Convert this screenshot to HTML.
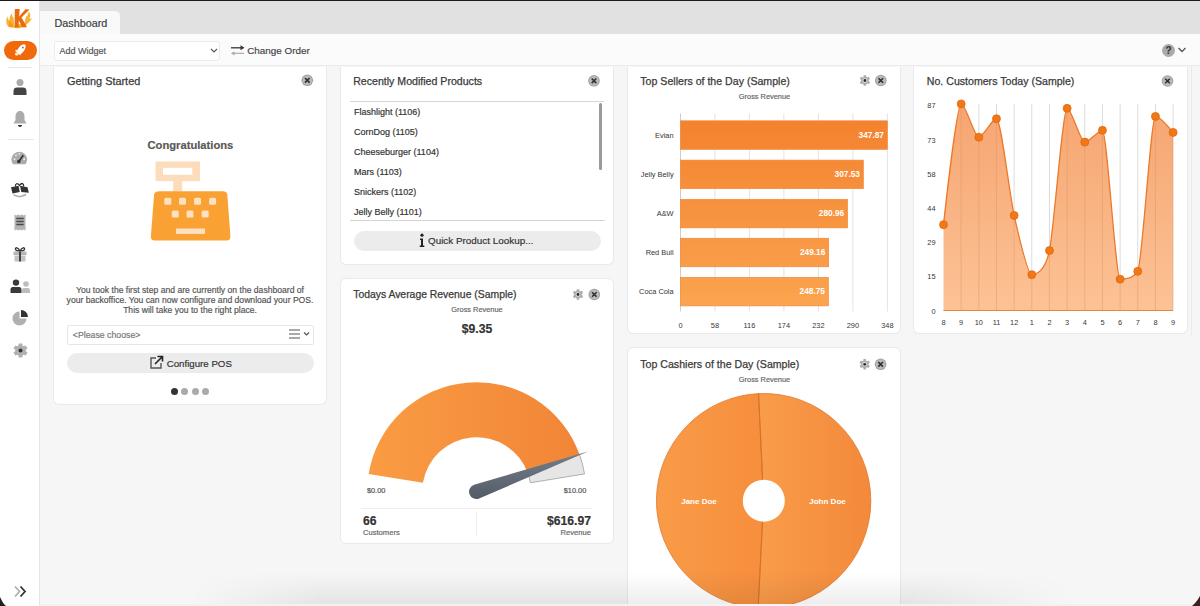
<!DOCTYPE html>
<html><head><meta charset="utf-8">
<style>
*{box-sizing:border-box}
html,body{margin:0;padding:0}
body{width:1200px;height:606px;overflow:hidden;position:relative;background:#f6f6f6;font-family:"Liberation Sans",sans-serif;color:#444}
.abs{position:absolute}
.t{position:absolute;white-space:nowrap;line-height:1;-webkit-text-stroke:0.18px currentColor}
.w{position:absolute;background:#fff;border:1px solid #e9e9e9;border-radius:6px}
.title{position:absolute;white-space:nowrap;font-size:10.6px;color:#3a3a3a;line-height:1;-webkit-text-stroke:0.25px #3a3a3a}
svg text{font-family:"Liberation Sans",sans-serif;-webkit-text-stroke:0.15px currentColor}
</style></head><body>
<!-- top dark line -->
<div class="abs" style="left:0;top:0;width:1200px;height:1px;background:#1b1b1b"></div>
<!-- tab bar -->
<div class="abs" style="left:40px;top:1px;width:1160px;height:33px;background:#e1e1e1"></div>
<div class="abs" style="left:40px;top:11px;width:80px;height:24px;background:#f9f9f9;border-radius:0 5px 0 0"></div>
<div class="t" style="left:54.5px;top:18px;font-size:10.8px;color:#3c3c3c">Dashboard</div>
<!-- toolbar -->
<div class="abs" style="left:40px;top:34px;width:1160px;height:32px;background:#fbfbfb;border-bottom:1px solid #ececec"></div>
<div class="abs" style="left:54px;top:41px;width:166px;height:20px;background:#fff;border:1px solid #ececec;border-radius:3px"></div>
<div class="t" style="left:59.5px;top:47px;font-size:9px;color:#555">Add Widget</div>
<svg class="abs" style="left:209px;top:47px" width="10" height="7" viewBox="0 0 10 7"><path d="M2 2 L5 5 L8 2" stroke="#555" stroke-width="1.1" fill="none"/></svg>
<svg class="abs" style="left:230px;top:44px" width="15" height="13" viewBox="0 0 15 13"><path d="M1 3.8 H11" stroke="#333" stroke-width="1.3"/><path d="M10.5 1.3 L14.5 3.8 L10.5 6.3 Z" fill="#333"/><path d="M4 9.3 H14" stroke="#aaa" stroke-width="1.2"/><path d="M4.5 7.2 L1 9.3 L4.5 11.4 Z" fill="#aaa"/></svg>
<div class="t" style="left:247.2px;top:46.2px;font-size:9.9px;color:#444">Change Order</div>
<!-- help -->
<div class="abs" style="left:1162px;top:44px;width:13px;height:13px;border-radius:50%;background:#ababab"></div>
<div class="t" style="left:1165.6px;top:46px;font-size:10px;font-weight:bold;color:#3a3a3a">?</div>
<svg class="abs" style="left:1177px;top:46px" width="10" height="8" viewBox="0 0 10 8"><path d="M1.5 2 L5 5.5 L8.5 2" stroke="#555" stroke-width="1.3" fill="none"/></svg>
<div class="abs" style="left:1191px;top:66px;width:1px;height:270px;background:#ebebeb"></div>

<!-- sidebar -->
<div class="abs" style="left:0;top:1px;width:40px;height:605px;background:#fff;border-right:1px solid #e6e6e6"></div>
<!-- logo -->
<svg class="abs" style="left:0;top:0" width="40" height="34" viewBox="0 0 40 34">
 <path d="M8.5 27 C6 24 5.5 20 7.5 16 C7.5 19 8.5 20 9.5 20.5 C9 17.5 10.5 15 12 13.5 C12 16 12.5 17 13.5 17.5 L14.5 27.5 Z" fill="#f8b232"/>
 <path d="M9.5 27 C8.5 24.5 8.5 22.5 10 20.5 C10.5 23 11.5 24 12.5 24 L13 27.5 Z" fill="#f39a1a"/>
 <path d="M23.5 26.5 C28 24 31 21 32.5 17 C31.5 18.5 30.5 19 29.5 19 C31 16 30.5 13 28.5 11.5 C28.5 14 27.5 16 26 17 Z" fill="#f8b232"/>
 <path d="M14 27.8 C16 28.5 20 28.5 23 27 L21 24 L15 25 Z" fill="#f6a42a"/>
 <path d="M14.8 9 L19.6 9 L19.2 16.5 L25.5 9.3 L29.5 9.5 L21.5 17.5 L27 27.3 L22.3 27.3 L18.8 20.5 L18.6 27.3 L14.6 27.3 Z" fill="#ea6a0c"/>
</svg>
<!-- rocket button -->
<div class="abs" style="left:4px;top:41px;width:33px;height:19px;border-radius:10px;background:#f0690a"></div>
<svg class="abs" style="left:0;top:38px" width="40" height="26" viewBox="0 38 40 26">
 <ellipse cx="21.3" cy="49.3" rx="6" ry="3" transform="rotate(-52 21.3 49.3)" fill="#fff"/>
 <path d="M17.5 49.5 L14.8 50.8 L17.8 52.5 Z M21.5 53 L20 55.5 L18.5 52.5 Z" fill="#fff"/>
 <circle cx="16.6" cy="54" r="1.7" fill="#ffe3b8"/>
 <circle cx="22.9" cy="47.6" r="0.9" fill="#666"/>
</svg>
<div class="abs" style="left:8px;top:67px;width:24px;height:1px;background:#e8e8e8"></div>
<!-- user -->
<svg class="abs" style="left:12px;top:78px" width="16" height="18" viewBox="0 0 16 18">
 <circle cx="8" cy="4.5" r="3.5" fill="#ababab"/>
 <path d="M1.5 17 V13 C1.5 10.5 3 9.5 5 9.5 H11 C13 9.5 14.5 10.5 14.5 13 V17 Z" fill="#454545"/>
</svg>
<!-- bell -->
<svg class="abs" style="left:12px;top:110px" width="16" height="18" viewBox="0 0 16 18">
 <path d="M8 1 C5 1 3.5 3.5 3.5 6.5 V10 L1.5 13.5 H14.5 L12.5 10 V6.5 C12.5 3.5 11 1 8 1 Z" fill="#ababab"/>
 <path d="M6 15 H10 C10 16.3 9 17 8 17 C7 17 6 16.3 6 15 Z" fill="#333"/>
</svg>
<div class="abs" style="left:8px;top:139px;width:26px;height:1px;background:#e8e8e8"></div>
<!-- gauge icon -->
<svg class="abs" style="left:11px;top:151px" width="17" height="14" viewBox="0 0 17 14">
 <path d="M2.05 13.3 A7.8 7.8 0 1 1 14.45 13.3 Z" fill="#ababab"/>
 <path d="M7.8 10.5 L12.3 4.3" stroke="#333" stroke-width="1.7"/>
 <circle cx="7.8" cy="10.5" r="1.8" fill="#333"/>
 <circle cx="3.6" cy="8.2" r="0.9" fill="#eee"/><circle cx="5" cy="4.3" r="0.9" fill="#eee"/><circle cx="8.3" cy="2.8" r="0.9" fill="#eee"/><circle cx="13.2" cy="8.2" r="0.9" fill="#eee"/>
</svg>
<!-- tickets/handshake -->
<svg class="abs" style="left:0;top:176px" width="40" height="24" viewBox="0 176 40 24">
 <path d="M15.5 186.5 C15 183.5 17.5 182.5 19.5 185.5 C21.5 182.5 24 183 23.5 186.5" stroke="#333" stroke-width="1.3" fill="none"/>
 <path d="M11 187.3 L18.5 185.8 L19.8 192 L12.5 193.5 Z" fill="#333"/>
 <path d="M20 185.8 L27.5 187.3 L28.8 192.8 L21.3 192 Z" fill="#333"/>
 <path d="M13 194 L19.5 196 L26.5 193.5 L25.5 196 L19.5 197.5 L14 196 Z" fill="#b0b0b0"/>
</svg>
<!-- receipt -->
<svg class="abs" style="left:14px;top:214px" width="13" height="17" viewBox="0 0 13 17">
 <path d="M0.5 0.5 L2.3 1.5 L4.1 0.5 L5.9 1.5 L7.7 0.5 L9.5 1.5 L11.5 0.5 V16.5 L9.5 15.5 L7.7 16.5 L5.9 15.5 L4.1 16.5 L2.3 15.5 L0.5 16.5 Z" fill="#b3b3b3"/>
 <path d="M2.3 4.5 H9.7 M2.3 7.5 H9.7 M2.3 10.5 H9.7" stroke="#4a4a4a" stroke-width="1.4"/>
</svg>
<!-- gift -->
<svg class="abs" style="left:12px;top:246px" width="16" height="16" viewBox="0 0 16 16">
 <path d="M8 5 C6 1 3 1 3.5 3.5 C4 5 6 5 8 5 C10 5 12 5 12.5 3.5 C13 1 10 1 8 5" stroke="#333" stroke-width="1.3" fill="none"/>
 <rect x="1.5" y="5.5" width="13" height="3.5" fill="#b5b5b5"/>
 <rect x="2.5" y="9.5" width="11" height="6" fill="#c2c2c2"/>
 <rect x="7" y="5.5" width="2" height="10" fill="#444"/>
</svg>
<!-- users -->
<svg class="abs" style="left:10px;top:279px" width="21" height="15" viewBox="0 0 21 15">
 <circle cx="16" cy="5" r="2.8" fill="#bdbdbd"/>
 <path d="M12 14 V11 C12 9.5 13 9 14 9 H18 C19.5 9 20 10 20 11 V14 Z" fill="#bdbdbd"/>
 <circle cx="6" cy="3.6" r="3.2" fill="#3a3a3a"/>
 <path d="M0.5 14 V10.5 C0.5 8.5 2 8 3.5 8 H8.5 C10 8 11.5 8.5 11.5 10.5 V14 Z" fill="#3a3a3a"/>
</svg>
<!-- pie icon -->
<svg class="abs" style="left:12px;top:309px" width="17" height="17" viewBox="0 0 17 17">
 <path d="M7.5 2.5 A7 7 0 1 0 14.5 9.5 H7.5 Z" fill="#b0b0b0"/>
 <path d="M9 1 A7 7 0 0 1 16 8 H9 Z" fill="#333"/>
</svg>
<!-- gear -->
<svg class="abs" style="left:12px;top:342px" width="17" height="17" viewBox="-8.5 -8.5 17 17">
 <path d="M -2.03 -4.90 L -1.82 -7.07 L 1.82 -7.07 L 2.03 -4.90 L 3.23 -4.20 L 5.22 -5.11 L 7.03 -1.96 L 5.25 -0.69 L 5.25 0.69 L 7.03 1.96 L 5.22 5.11 L 3.23 4.20 L 2.03 4.90 L 1.82 7.07 L -1.82 7.07 L -2.03 4.90 L -3.23 4.20 L -5.22 5.11 L -7.03 1.96 L -5.25 0.69 L -5.25 -0.69 L -7.03 -1.96 L -5.22 -5.11 L -3.23 -4.20 Z" fill="#b0b0b0"/>
 <circle r="2" fill="#333"/>
</svg>
<!-- expand -->
<svg class="abs" style="left:13px;top:585px" width="15" height="13" viewBox="0 0 15 13">
 <path d="M2 1.5 L6.5 6.5 L2 11.5" stroke="#aaa" stroke-width="1.6" fill="none"/>
 <path d="M7.5 1.5 L12 6.5 L7.5 11.5" stroke="#333" stroke-width="1.8" fill="none"/>
</svg>
<svg class="abs" style="left:0;top:594px" width="10" height="12" viewBox="0 0 10 12"><path d="M0 3 C1.5 6 3 9.5 6 12 H0 Z" fill="#222"/></svg>

<!-- ============ WIDGETS ============ -->
<!-- Getting started -->
<div class="w" style="border-top:none;border-radius:0 0 6px 6px;left:53px;top:67px;width:274px;height:338px"></div>
<div class="title" style="left:67px;top:75.6px;font-size:10.9px">Getting Started</div>
<div class="t" style="left:147.5px;top:139.5px;font-size:11.2px;font-weight:bold;color:#585858">Congratulations</div>
<!-- cash register -->
<svg class="abs" style="left:148px;top:158px" width="86" height="86" viewBox="148 158 86 86">
 <rect x="155.5" y="161.5" width="44.5" height="19.6" fill="#fcdcba"/>
 <rect x="163" y="167.8" width="29.3" height="7" fill="#fff"/>
 <rect x="173.2" y="180.5" width="9" height="11" fill="#fcdcba"/>
 <path d="M159 191.3 H223 Q226.5 191.3 227.3 194.5 L230.4 236 Q230.6 240.5 226.5 240.5 H154.8 Q150.6 240.5 150.9 236 L154.1 194.5 Q155 191.3 159 191.3 Z" fill="#f9a233"/>
 <g fill="#fde0c2">
  <rect x="164.3" y="197.7" width="7" height="7" rx="1.5"/><rect x="179" y="197.7" width="7" height="7" rx="1.5"/><rect x="194" y="197.7" width="7" height="7" rx="1.5"/><rect x="209.1" y="197.7" width="7" height="7" rx="1.5"/>
  <rect x="171.8" y="210.5" width="7" height="7" rx="1.5"/><rect x="186.5" y="210.5" width="7" height="7" rx="1.5"/><rect x="201.7" y="210.5" width="7" height="7" rx="1.5"/>
  <rect x="176" y="228.5" width="29" height="5.4"/>
 </g>
</svg>
<div class="t" style="left:53px;width:274px;top:284.5px;font-size:8.6px;line-height:10.3px;color:#555;text-align:center;white-space:normal">You took the first step and are currently on the dashboard of<br>your backoffice. You can now configure and download your POS.<br>This will take you to the right place.</div>
<div class="abs" style="left:67px;top:324.5px;width:247px;height:20px;background:#fff;border:1px solid #e6e6e6;border-radius:2px"></div>
<div class="t" style="left:72.8px;top:331px;font-size:8.75px;color:#777">&lt;Please choose&gt;</div>
<svg class="abs" style="left:288px;top:328px" width="24" height="12" viewBox="0 0 24 12"><path d="M1 2 H12 M1 6 H12 M1 10 H12" stroke="#555" stroke-width="1.1"/><path d="M16 4.5 L18.5 7 L21 4.5" stroke="#555" stroke-width="1.2" fill="none"/></svg>
<div class="abs" style="left:67px;top:353px;width:247px;height:20px;background:#ececec;border-radius:10px"></div>
<svg class="abs" style="left:149px;top:355px" width="15" height="15" viewBox="0 0 15 15"><path d="M7 3 H2 V13 H12 V8" stroke="#555" stroke-width="1.4" fill="none"/><path d="M6 9 L13 2 M8.5 1.5 H13.5 V6.5" stroke="#222" stroke-width="1.6" fill="none"/></svg>
<div class="t" style="left:166.7px;top:358.8px;font-size:9.7px;color:#333">Configure POS</div>
<div class="abs" style="left:170.5px;top:388.3px;width:7px;height:7px;border-radius:50%;background:#333"></div>
<div class="abs" style="left:181.1px;top:388.3px;width:7px;height:7px;border-radius:50%;background:#aaa"></div>
<div class="abs" style="left:191.6px;top:388.3px;width:7px;height:7px;border-radius:50%;background:#aaa"></div>
<div class="abs" style="left:202.4px;top:388.3px;width:7px;height:7px;border-radius:50%;background:#aaa"></div>

<!-- Recently modified -->
<div class="w" style="border-top:none;border-radius:0 0 6px 6px;left:340px;top:67px;width:274px;height:198px"></div>
<div class="title" style="left:353.2px;top:75.6px">Recently Modified Products</div>
<div class="abs" style="left:350px;top:101px;width:254px;height:1px;background:#d5d5d5"></div>
<div class="abs" style="left:598.5px;top:103px;width:3px;height:67px;background:#9a9a9a;border-radius:2px"></div>
<div class="t" style="left:354px;top:107.5px;font-size:9px;color:#333">Flashlight (1106)</div>
<div class="t" style="left:354px;top:127.6px;font-size:9px;color:#333">CornDog (1105)</div>
<div class="t" style="left:354px;top:147.7px;font-size:9px;color:#333">Cheeseburger (1104)</div>
<div class="t" style="left:354px;top:167.8px;font-size:9px;color:#333">Mars (1103)</div>
<div class="t" style="left:354px;top:187.9px;font-size:9px;color:#333">Snickers (1102)</div>
<div class="t" style="left:354px;top:208.0px;font-size:9px;color:#333">Jelly Belly (1101)</div>
<div class="abs" style="left:350px;top:220px;width:255px;height:1px;background:#d5d5d5"></div>
<div class="abs" style="left:353.5px;top:231px;width:247px;height:20px;background:#ececec;border-radius:10px"></div>
<svg class="abs" style="left:418px;top:233px" width="8" height="15" viewBox="0 0 8 15"><circle cx="4" cy="2.2" r="1.6" fill="#222"/><path d="M2 5.5 H5 V12.5 H6.3 V14 H1.7 V12.5 H3 V7 H2 Z" fill="#222"/></svg>
<div class="t" style="left:428px;top:236.3px;font-size:9.9px;color:#333">Quick Product Lookup...</div>

<!-- Avg revenue gauge -->
<div class="w" style="left:340px;top:278px;width:274px;height:266px"></div>
<div class="title" style="left:353.2px;top:290px;font-size:10.4px">Todays Average Revenue (Sample)</div>
<div class="t" style="left:340px;width:274px;text-align:center;top:305.5px;font-size:7.4px;color:#666">Gross Revenue</div>
<div class="t" style="left:340px;width:274px;text-align:center;top:322.5px;font-size:12.2px;font-weight:bold;color:#333">$9.35</div>
<div class="t" style="left:366.9px;top:487px;font-size:7.4px;color:#555">$0.00</div>
<div class="t" style="left:563.7px;top:487px;font-size:7.4px;color:#555">$10.00</div>
<div class="abs" style="left:361px;top:508px;width:231px;height:1px;background:#eeeeee"></div>
<div class="abs" style="left:475.5px;top:512px;width:1px;height:24px;background:#eeeeee"></div>
<div class="t" style="left:363px;top:514.5px;font-size:12.2px;font-weight:bold;color:#333">66</div>
<div class="t" style="left:363px;top:529px;font-size:7.6px;color:#666">Customers</div>
<div class="t" style="right:609px;top:514.5px;font-size:12.2px;font-weight:bold;color:#333">$616.97</div>
<div class="t" style="right:609px;top:529px;font-size:7.6px;color:#666">Revenue</div>

<!-- Top sellers -->
<div class="w" style="border-top:none;border-radius:0 0 6px 6px;left:627px;top:67px;width:274px;height:267px"></div>
<div class="title" style="left:640.3px;top:75.6px">Top Sellers of the Day (Sample)</div>
<div class="t" style="left:627px;width:274px;text-align:center;top:93px;font-size:7.4px;color:#666;padding-left:1px">Gross Revenue</div>

<!-- Top cashiers -->
<div class="w" style="left:627px;top:347px;width:274px;height:280px"></div>
<div class="title" style="left:640.3px;top:358.8px">Top Cashiers of the Day (Sample)</div>
<div class="t" style="left:627px;width:274px;text-align:center;top:376px;font-size:7.4px;color:#666;padding-left:1px">Gross Revenue</div>

<!-- Customers -->
<div class="w" style="border-top:none;border-radius:0 0 6px 6px;left:913px;top:67px;width:275px;height:267px"></div>
<div class="title" style="left:926.8px;top:75.6px">No. Customers Today (Sample)</div>

<!-- ============ SVG overlay for charts ============ -->
<svg class="abs" style="left:0;top:0" width="1200" height="606" viewBox="0 0 1200 606">
 <defs>
  <linearGradient id="gor" x1="0" y1="0" x2="1" y2="0"><stop offset="0" stop-color="#fa9c44"/><stop offset="1" stop-color="#f18536"/></linearGradient>
  <linearGradient id="bar" gradientUnits="userSpaceOnUse" x1="0" y1="120" x2="0" y2="306"><stop offset="0" stop-color="#f4822f"/><stop offset="1" stop-color="#fba44f"/></linearGradient>
  <linearGradient id="needle" x1="0" y1="0" x2="0" y2="1"><stop offset="0" stop-color="#75808c"/><stop offset="1" stop-color="#535b66"/></linearGradient>
  <linearGradient id="area" gradientUnits="userSpaceOnUse" x1="0" y1="104" x2="0" y2="311"><stop offset="0" stop-color="#f5a06a"/><stop offset="1" stop-color="#fcbf90"/></linearGradient>
  <linearGradient id="pieL" gradientUnits="userSpaceOnUse" x1="656" y1="0" x2="764" y2="0"><stop offset="0" stop-color="#f99b48"/><stop offset="1" stop-color="#f68e3d"/></linearGradient><linearGradient id="pieR" gradientUnits="userSpaceOnUse" x1="760" y1="0" x2="871" y2="0"><stop offset="0" stop-color="#f99c4a"/><stop offset="1" stop-color="#f3893b"/></linearGradient>
  <g id="closebtn"><circle r="5.8" fill="#a0a0a0"/><circle r="4.8" fill="#bababa"/><path d="M-2.3 -2.3 L2.3 2.3 M2.3 -2.3 L-2.3 2.3" stroke="#2e2e2e" stroke-width="1.6"/></g>
  <g id="gearbtn"><path d="M -1.37 -3.65 L -1.23 -5.26 L 1.23 -5.26 L 1.37 -3.65 L 2.47 -3.01 L 3.94 -3.70 L 5.17 -1.56 L 3.85 -0.64 L 3.85 0.64 L 5.17 1.56 L 3.94 3.70 L 2.47 3.01 L 1.37 3.65 L 1.23 5.26 L -1.23 5.26 L -1.37 3.65 L -2.47 3.01 L -3.94 3.70 L -5.17 1.56 L -3.85 0.64 L -3.85 -0.64 L -5.17 -1.56 L -3.94 -3.70 L -2.47 -3.01 Z" fill="#adadad"/><circle r="2.3" fill="#e2e2e2"/><circle r="1.4" fill="#2a2a2a"/></g>
 </defs>
 <use href="#closebtn" x="307.3" y="80.3"/>
 <use href="#closebtn" x="594" y="80.8"/>
 <use href="#gearbtn" x="578" y="294.5"/><use href="#closebtn" x="594.3" y="294.5"/>
 <use href="#gearbtn" x="864.9" y="80.5"/><use href="#closebtn" x="880.8" y="80.5"/>
 <use href="#gearbtn" x="864.7" y="364.3"/><use href="#closebtn" x="880.6" y="364.3"/>
 <use href="#closebtn" x="1167.5" y="81"/>

 <!-- gauge -->
 <path d="M 368.64 473.92 A 109.4 109.4 0 0 1 579.54 454.56 L 527.79 473.18 A 54.4 54.4 0 0 0 422.92 482.81 Z" fill="url(#gor)"/>
 <path d="M 579.54 454.56 A 109.4 109.4 0 0 1 584.56 473.92 L 530.28 482.81 A 54.4 54.4 0 0 0 527.79 473.18 Z" fill="#e6e6e6" stroke="#a0a0a0" stroke-width="0.8"/>
 <path d="M 474.09 484.64 L 588.57 451.31 L 479.11 498.56 A 7.4 7.4 0 1 1 474.09 484.64 Z" fill="url(#needle)"/>

 <!-- bar chart -->
 <g stroke="#e4e4e4" stroke-width="1">
  <line x1="714.9" y1="113.5" x2="714.9" y2="311.5"/><line x1="749.4" y1="113.5" x2="749.4" y2="311.5"/><line x1="783.9" y1="113.5" x2="783.9" y2="311.5"/><line x1="818.4" y1="113.5" x2="818.4" y2="311.5"/><line x1="852.9" y1="113.5" x2="852.9" y2="311.5"/><line x1="887.4" y1="113.5" x2="887.4" y2="311.5"/>
 </g>
 <line x1="680.5" y1="113.5" x2="680.5" y2="311.5" stroke="#ccc" stroke-width="1"/>
 <g stroke="#f0843a" stroke-width="0.6">
  <rect x="680.5" y="120.8" width="206.9" height="28.6" fill="url(#bar)"/>
  <rect x="680.5" y="160.1" width="182.9" height="28.6" fill="url(#bar)"/>
  <rect x="680.5" y="199.3" width="167.1" height="28.6" fill="url(#bar)"/>
  <rect x="680.5" y="238.2" width="148.2" height="28.6" fill="url(#bar)"/>
  <rect x="680.5" y="277.3" width="147.9" height="28.6" fill="url(#bar)"/>
 </g>
 <g font-size="7.4" fill="#333" text-anchor="end">
  <text x="673.6" y="137.8">Evian</text><text x="673.6" y="177.1">Jelly Belly</text><text x="673.6" y="216.3">A&amp;W</text><text x="673.6" y="255.2">Red Bull</text><text x="673.6" y="294.3">Coca Cola</text>
 </g>
 <g font-size="8.3" fill="#fff" font-weight="bold" text-anchor="end">
  <text x="884" y="137.8">347.87</text><text x="860" y="177.1">307.53</text><text x="844.2" y="216.3">280.96</text><text x="825.3" y="255.2">249.16</text><text x="825" y="294.3">248.75</text>
 </g>
 <g font-size="7.4" fill="#383838" text-anchor="middle">
  <text x="680.5" y="327.8">0</text><text x="714.9" y="327.8">58</text><text x="749.4" y="327.8">116</text><text x="783.9" y="327.8">174</text><text x="818.4" y="327.8">232</text><text x="852.9" y="327.8">290</text><text x="887.4" y="327.8">348</text>
 </g>

 <!-- pie -->
 <path d="M 763.6 500.7 L 758.18 607.76 A 107.2 107.2 0 0 1 758.55 393.62 Z" fill="url(#pieL)" stroke="#e07a2e" stroke-width="0.8"/>
 <path d="M 763.6 500.7 L 758.55 393.62 A 107.2 107.2 0 1 1 758.18 607.76 Z" fill="url(#pieR)" stroke="#e07a2e" stroke-width="0.8"/>
 <path d="M 758.55 393.62 L 763.6 500.7 L 758.18 607.76" stroke="#d46e28" stroke-width="0.9" fill="none"/>
 <circle cx="763.8" cy="500.7" r="21" fill="#fff"/>
 <g font-size="8" fill="#fff" font-weight="bold" text-anchor="middle"><text x="699" y="504">Jane Doe</text><text x="827.5" y="504">John Doe</text></g>

 <!-- customers chart -->
 <g stroke="#dcdcdc" stroke-width="1"><line x1="961.16" y1="104" x2="961.16" y2="310.5"/><line x1="978.82" y1="104" x2="978.82" y2="310.5"/><line x1="996.48" y1="104" x2="996.48" y2="310.5"/><line x1="1014.15" y1="104" x2="1014.15" y2="310.5"/><line x1="1031.81" y1="104" x2="1031.81" y2="310.5"/><line x1="1049.47" y1="104" x2="1049.47" y2="310.5"/><line x1="1067.13" y1="104" x2="1067.13" y2="310.5"/><line x1="1084.79" y1="104" x2="1084.79" y2="310.5"/><line x1="1102.45" y1="104" x2="1102.45" y2="310.5"/><line x1="1120.12" y1="104" x2="1120.12" y2="310.5"/><line x1="1137.78" y1="104" x2="1137.78" y2="310.5"/><line x1="1155.44" y1="104" x2="1155.44" y2="310.5"/><line x1="1173.10" y1="104" x2="1173.10" y2="310.5"/></g>
 <path d="M 943.50 224.65 C 943.50 224.65 956.75 103.88 961.16 103.88 C 965.58 103.88 974.41 137.14 978.82 137.14 C 983.24 137.14 992.07 118.74 996.48 118.74 C 1000.90 118.74 1009.73 195.96 1014.15 215.45 C 1018.56 234.94 1027.39 274.65 1031.81 274.65 C 1036.22 274.65 1045.05 271.38 1049.47 250.59 C 1053.88 229.81 1062.72 108.37 1067.13 108.37 C 1071.55 108.37 1080.38 142.09 1084.79 142.09 C 1089.21 142.09 1098.04 130.30 1102.45 130.30 C 1106.87 130.30 1115.70 279.13 1120.12 279.13 C 1124.53 279.13 1133.36 279.13 1137.78 271.35 C 1142.19 263.56 1151.02 116.39 1155.44 116.39 C 1159.85 116.39 1173.10 132.42 1173.10 132.42 L 1173.10 310.5 L 943.50 310.5 Z" fill="url(#area)" fill-opacity="0.95"/>
 <clipPath id="areaclip"><path d="M 943.50 224.65 C 943.50 224.65 956.75 103.88 961.16 103.88 C 965.58 103.88 974.41 137.14 978.82 137.14 C 983.24 137.14 992.07 118.74 996.48 118.74 C 1000.90 118.74 1009.73 195.96 1014.15 215.45 C 1018.56 234.94 1027.39 274.65 1031.81 274.65 C 1036.22 274.65 1045.05 271.38 1049.47 250.59 C 1053.88 229.81 1062.72 108.37 1067.13 108.37 C 1071.55 108.37 1080.38 142.09 1084.79 142.09 C 1089.21 142.09 1098.04 130.30 1102.45 130.30 C 1106.87 130.30 1115.70 279.13 1120.12 279.13 C 1124.53 279.13 1133.36 279.13 1137.78 271.35 C 1142.19 263.56 1151.02 116.39 1155.44 116.39 C 1159.85 116.39 1173.10 132.42 1173.10 132.42 L 1173.10 310.5 L 943.50 310.5 Z"/></clipPath><g stroke="#e8955a" stroke-width="0.8" opacity="0.55" clip-path="url(#areaclip)"><line x1="961.16" y1="104" x2="961.16" y2="310.5"/><line x1="978.82" y1="104" x2="978.82" y2="310.5"/><line x1="996.48" y1="104" x2="996.48" y2="310.5"/><line x1="1014.15" y1="104" x2="1014.15" y2="310.5"/><line x1="1031.81" y1="104" x2="1031.81" y2="310.5"/><line x1="1049.47" y1="104" x2="1049.47" y2="310.5"/><line x1="1067.13" y1="104" x2="1067.13" y2="310.5"/><line x1="1084.79" y1="104" x2="1084.79" y2="310.5"/><line x1="1102.45" y1="104" x2="1102.45" y2="310.5"/><line x1="1120.12" y1="104" x2="1120.12" y2="310.5"/><line x1="1137.78" y1="104" x2="1137.78" y2="310.5"/><line x1="1155.44" y1="104" x2="1155.44" y2="310.5"/><line x1="1173.10" y1="104" x2="1173.10" y2="310.5"/></g>
 <line x1="943.5" y1="310.5" x2="1173.1" y2="310.5" stroke="#e3863e" stroke-width="1"/>
 <path d="M 943.50 224.65 C 943.50 224.65 956.75 103.88 961.16 103.88 C 965.58 103.88 974.41 137.14 978.82 137.14 C 983.24 137.14 992.07 118.74 996.48 118.74 C 1000.90 118.74 1009.73 195.96 1014.15 215.45 C 1018.56 234.94 1027.39 274.65 1031.81 274.65 C 1036.22 274.65 1045.05 271.38 1049.47 250.59 C 1053.88 229.81 1062.72 108.37 1067.13 108.37 C 1071.55 108.37 1080.38 142.09 1084.79 142.09 C 1089.21 142.09 1098.04 130.30 1102.45 130.30 C 1106.87 130.30 1115.70 279.13 1120.12 279.13 C 1124.53 279.13 1133.36 279.13 1137.78 271.35 C 1142.19 263.56 1151.02 116.39 1155.44 116.39 C 1159.85 116.39 1173.10 132.42 1173.10 132.42" fill="none" stroke="#ec792a" stroke-width="1.3"/>
 <g fill="#f27816" stroke="#d9660e" stroke-width="0.7"><circle cx="943.50" cy="224.65" r="4"/><circle cx="961.16" cy="103.88" r="4"/><circle cx="978.82" cy="137.14" r="4"/><circle cx="996.48" cy="118.74" r="4"/><circle cx="1014.15" cy="215.45" r="4"/><circle cx="1031.81" cy="274.65" r="4"/><circle cx="1049.47" cy="250.59" r="4"/><circle cx="1067.13" cy="108.37" r="4"/><circle cx="1084.79" cy="142.09" r="4"/><circle cx="1102.45" cy="130.30" r="4"/><circle cx="1120.12" cy="279.13" r="4"/><circle cx="1137.78" cy="271.35" r="4"/><circle cx="1155.44" cy="116.39" r="4"/><circle cx="1173.10" cy="132.42" r="4"/></g>
 <g font-size="7.4" fill="#383838" text-anchor="middle"><text x="943.50" y="324.5">8</text><text x="961.16" y="324.5">9</text><text x="978.82" y="324.5">10</text><text x="996.48" y="324.5">11</text><text x="1014.15" y="324.5">12</text><text x="1031.81" y="324.5">1</text><text x="1049.47" y="324.5">2</text><text x="1067.13" y="324.5">3</text><text x="1084.79" y="324.5">4</text><text x="1102.45" y="324.5">5</text><text x="1120.12" y="324.5">6</text><text x="1137.78" y="324.5">7</text><text x="1155.44" y="324.5">8</text><text x="1173.10" y="324.5">9</text></g>
 <g font-size="7.4" fill="#383838" text-anchor="end"><text x="935.5" y="313.50">0</text><text x="935.5" y="279.30">15</text><text x="935.5" y="245.10">29</text><text x="935.5" y="210.90">44</text><text x="935.5" y="176.70">58</text><text x="935.5" y="142.50">73</text><text x="935.5" y="108.30">87</text></g>
</svg>
<div class="abs" style="left:190px;top:572px;width:880px;height:33px;background:linear-gradient(to bottom,rgba(0,0,0,0),rgba(0,0,0,0.07));-webkit-mask-image:linear-gradient(to right,transparent 0,#000 130px,#000 720px,transparent 880px);mask-image:linear-gradient(to right,transparent 0,#000 130px,#000 720px,transparent 880px)"></div>
<div class="abs" style="left:40px;top:604px;width:1160px;height:2px;background:#f2f2f2"></div>
<svg class="abs" style="left:1190px;top:594px" width="10" height="12" viewBox="0 0 10 12"><path d="M10 2 C8 5 6 9 2 12 H10 Z" fill="#3a2020"/></svg>
</body></html>
